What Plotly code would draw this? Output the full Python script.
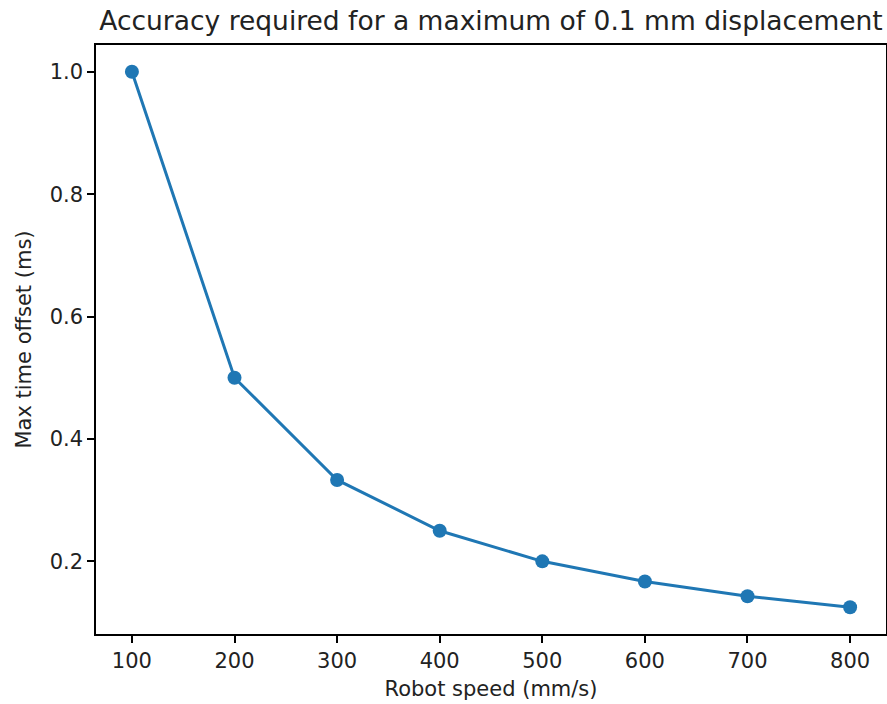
import plotly.graph_objects as go

speed = [100, 200, 300, 400, 500, 600, 700, 800]
max_offset = [1.0, 0.5, 0.333, 0.25, 0.2, 0.167, 0.143, 0.125]
x_ticks = [100, 200, 300, 400, 500, 600, 700, 800]
y_ticks = [0.2, 0.4, 0.6, 0.8, 1.0]

FONT = "DejaVu Sans"
BLUE = "#1f77b4"

fig = go.Figure()
fig.add_trace(go.Scatter(
    x=speed, y=max_offset, mode="lines+markers",
    line=dict(color=BLUE, width=3),
    marker=dict(color=BLUE, size=14),
    showlegend=False,
))

axis_common = dict(
    showline=True, linecolor="black", linewidth=1.5, mirror=True,
    ticks="outside", ticklen=7, tickwidth=1.5, tickcolor="black",
    showgrid=False, zeroline=False,
    tickfont=dict(family=FONT, size=21, color="#222222"),
)

fig.update_layout(
    width=887, height=704,
    margin=dict(l=96, r=1, t=45, b=70, autoexpand=False),
    paper_bgcolor="white", plot_bgcolor="white",
    font=dict(family=FONT, color="#222222"),
    title=dict(
        text="Accuracy required for a maximum of 0.1 mm displacement",
        font=dict(family=FONT, size=26.5, color="#222222"),
        x=0.5, xref="paper", xanchor="center",
        y=0.971, yref="container", yanchor="middle",
    ),
    xaxis=dict(
        range=[65, 835], tickvals=x_ticks,
        title=dict(text="Robot speed (mm/s)", font=dict(family=FONT, size=21, color="#222222"), standoff=9),
        **axis_common,
    ),
    yaxis=dict(
        range=[0.08125, 1.04375], tickvals=y_ticks, tickformat=".1f",
        title=dict(text="Max time offset (ms)", font=dict(family=FONT, size=21, color="#222222"), standoff=12),
        **axis_common,
    ),
)

fig.write_html("out.html", config={"displayModeBar": False},
               post_script="document.body.style.margin='0';")
